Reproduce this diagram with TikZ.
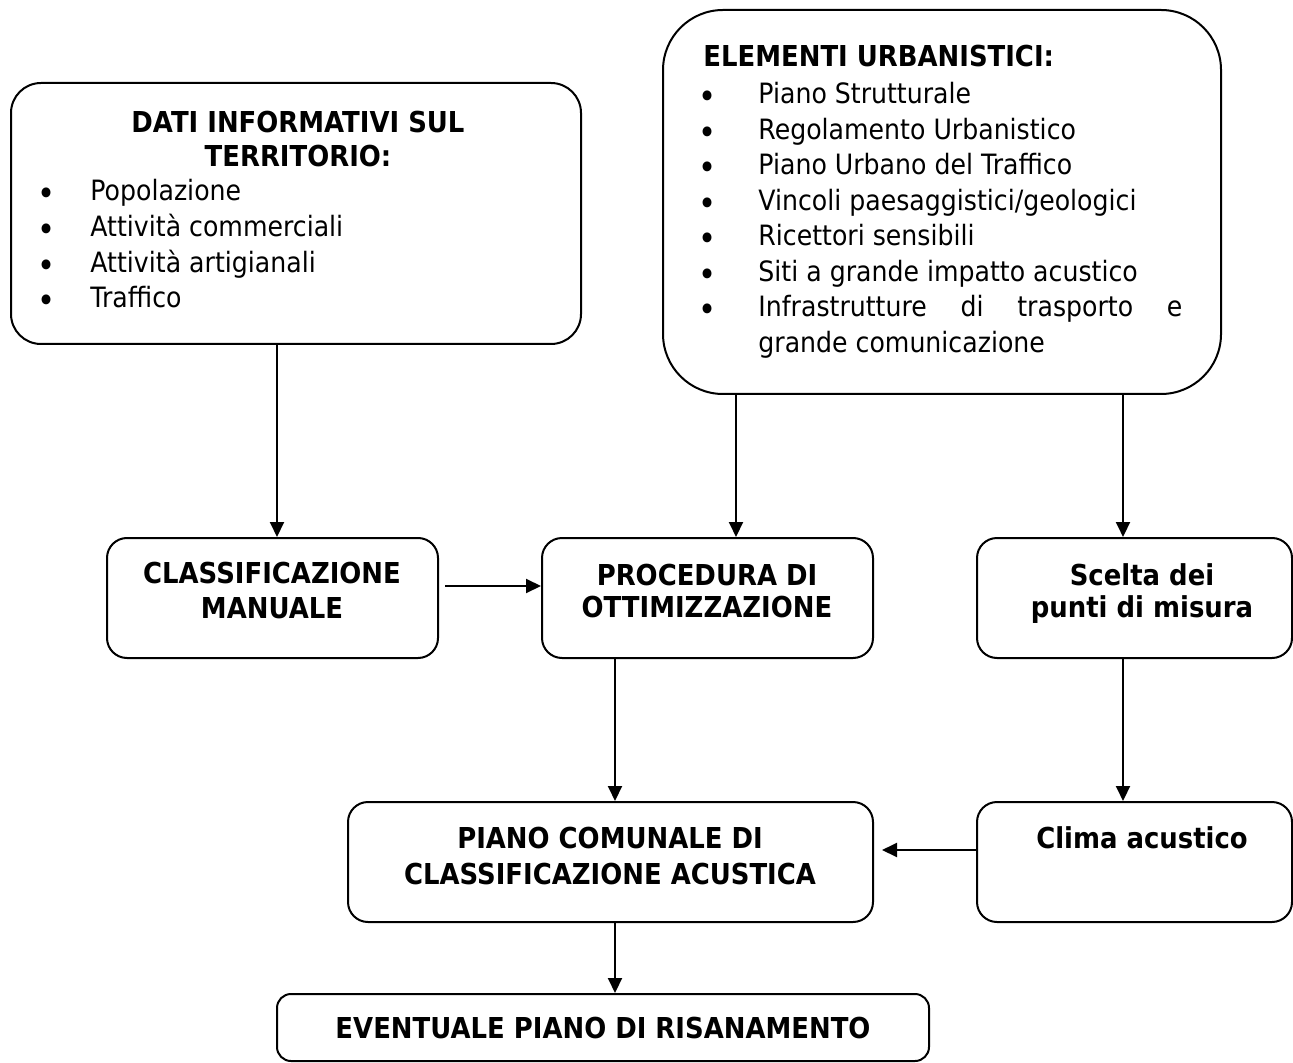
\documentclass[tikz,border=0pt]{standalone}
\usepackage{fontspec}
\setmainfont{DejaVu Sans}[FakeStretch=0.9]
\usetikzlibrary{arrows.meta,fit}
\begin{document}
\begin{tikzpicture}[x=0.5pt,y=-0.5pt,
  box/.style={draw, line width=1pt, inner sep=0pt},
  arr/.style={line width=1pt, -{Triangle[length=7.5pt,width=7pt]}},
  reg/.style={font=\fontsize{14pt}{17pt}\selectfont, inner sep=0pt, anchor=base west},
  bul/.style={font=\fontsize{17pt}{17pt}\selectfont, inner sep=0pt, anchor=base},
  ttl/.style={font=\bfseries\fontsize{14.4pt}{17pt}\selectfont, inner sep=0pt, anchor=base},
]
\useasboundingbox (0,0) rectangle (1293,1063);

% boxes
\node[box, rounded corners=15pt, fit={(11,83) (581,344)}] (b1) {};
\node[box, rounded corners=30pt, fit={(663,10) (1221,394)}] (b2) {};
\node[box, rounded corners=10pt, fit={(107,538) (438,658)}] (b3) {};
\node[box, rounded corners=10pt, fit={(542,538) (873,658)}] (b4) {};
\node[box, rounded corners=10pt, fit={(977,538) (1292,658)}] (b5) {};
\node[box, rounded corners=10pt, fit={(348,802) (873,922)}] (b6) {};
\node[box, rounded corners=10pt, fit={(977,802) (1292,922)}] (b7) {};
\node[box, rounded corners=7pt, fit={(277,994) (929,1061)}] (b8) {};

% texts box 1
\node[ttl] (t1a) at (298,133) {DATI INFORMATIVI SUL};
\node[ttl] (t1b) at (298,167) {TERRITORIO:};
\node[bul] (p1) at (47,206) {•}; \node[reg] (l1) at (90,201) {Popolazione};
\node[bul] (p2) at (47,242) {•}; \node[reg] (l2) at (90,237) {Attività commerciali};
\node[bul] (p3) at (47,278) {•}; \node[reg] (l3) at (90,273) {Attività artigianali};
\node[bul] (p4) at (47,313) {•}; \node[reg] (l4) at (90,308) {Traffico};

% texts box 2
\node[ttl, anchor=base west] (t2) at (703,67) {ELEMENTI URBANISTICI:};
\node[bul] (q1) at (708,109) {•}; \node[reg] (m1) at (758,104) {Piano Strutturale};
\node[bul] (q2) at (708,145) {•}; \node[reg] (m2) at (758,140) {Regolamento Urbanistico};
\node[bul] (q3) at (708,180) {•}; \node[reg] (m3) at (758,175) {Piano Urbano del Traffico};
\node[bul] (q4) at (708,216) {•}; \node[reg] (m4) at (758,211) {Vincoli paesaggistici/geologici};
\node[bul] (q5) at (708,251) {•}; \node[reg] (m5) at (758,246) {Ricettori sensibili};
\node[bul] (q6) at (708,287) {•}; \node[reg] (m6) at (758,282) {Siti a grande impatto acustico};
\node[bul] (q7) at (708,322) {•}; \node[reg] (m7) at (758,317) {\makebox[212pt][s]{Infrastrutture\hfill di\hfill trasporto\hfill e}};
\node[reg] (m8) at (758,353) {grande comunicazione};

% texts small boxes
\node[ttl] (t3a) at (272,583) {CLASSIFICAZIONE};
\node[ttl] (t3b) at (272,618) {MANUALE};
\node[ttl] (t4a) at (707,585) {PROCEDURA DI};
\node[ttl] (t4b) at (707,617) {OTTIMIZZAZIONE};
\node[ttl] (t5a) at (1142,585) {Scelta dei};
\node[ttl] (t5b) at (1142,617) {punti di misura};
\node[ttl] (t6a) at (610,848) {PIANO COMUNALE DI};
\node[ttl] (t6b) at (610,884) {CLASSIFICAZIONE ACUSTICA};
\node[ttl] (t7) at (1142,848) {Clima acustico};
\node[ttl] (t8) at (603,1038) {EVENTUALE PIANO DI RISANAMENTO};

% connector helpers
\coordinate (xa) at (277,0);
\coordinate (xb) at (736,0);
\coordinate (xc) at (1123,0);
\coordinate (xd) at (615,0);
\coordinate (h1) at (445,586);
\coordinate (h2) at (882,850);

% connectors
\draw[arr] (xa |- b1.south) -- (xa |- b3.north);
\draw[arr] (xb |- b2.south) -- (xb |- b4.north);
\draw[arr] (xc |- b2.south) -- (xc |- b5.north);
\draw[arr] (h1) -- (h1 -| b4.west);
\draw[arr] (xd |- b4.south) -- (xd |- b6.north);
\draw[arr] (xc |- b5.south) -- (xc |- b7.north);
\draw[arr] (h2 -| b7.west) -- (h2);
\draw[arr] (xd |- b6.south) -- (xd |- b8.north);
\end{tikzpicture}
\end{document}
